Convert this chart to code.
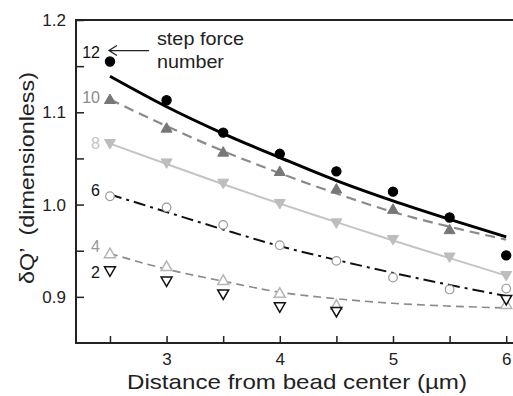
<!DOCTYPE html>
<html lang="en">
  <head>
    <meta charset="utf-8" />
    <title>Step force dQ' vs distance</title>
    <script type="text/javascript" src="https://d3js.org/d3.v7.min.js"></script>
    <style>
      body {
        margin: 0;
        background: #fff;
      }
      svg {
        font-family: "Liberation Sans", Arial, sans-serif;
      }
      .axis text {
        font-size: 17px;
        fill: #222;
      }
      .axis .tick line {
        stroke: #222;
        stroke-width: 1.5px;
      }
      .frame {
        fill: none;
        stroke: #222;
        stroke-width: 2px;
      }
    </style>
  </head>

  <body>
    <script>
      // distances (µm)
      const distance = [2.5, 3, 3.5, 4, 4.5, 5, 5.5, 6];

      // measured points, one list per step force number
      const points12 = [1.155, 1.113, 1.078, 1.055, 1.036, 1.014, 0.986, 0.945];
      const points10 = [1.114, 1.083, 1.057, 1.036, 1.017, 0.995, 0.973, null];
      const points8 = [1.066, 1.045, 1.023, 1.001, 0.98, 0.962, 0.943, 0.923];
      const points6 = [1.009, 0.997, 0.978, 0.956, 0.939, 0.921, 0.908, 0.909];
      const points4 = [0.947, 0.933, 0.918, 0.904, 0.891, null, null, 0.892];
      const points2 = [0.928, 0.917, 0.903, 0.889, 0.884, null, null, 0.897];

      // fitted curves
      const fit12 = [1.139, 1.106, 1.077, 1.051, 1.026, 1.004, 0.984, 0.965];
      const fit10 = [1.114, 1.085, 1.058, 1.034, 1.012, 0.992, 0.976, 0.962];
      const fit8 = [1.066, 1.044, 1.022, 1.001, 0.981, 0.961, 0.942, 0.923];
      const fit6 = [1.011, 0.992, 0.973, 0.955, 0.94, 0.926, 0.913, 0.901];
      const fit4 = [0.947, 0.93, 0.917, 0.905, 0.898, 0.893, 0.89, 0.888];

      const yTicks = [0.9, 0.95, 1.0, 1.05, 1.1, 1.15, 1.2];
      const yLabels = [0.9, 1.0, 1.1, 1.2];
      const xTicks = [2.5, 3, 3.5, 4, 4.5, 5, 5.5, 6];
      const xLabels = [3, 4, 5, 6];

      const w = 513;
      const h = 396;
      const margin = { top: 20, right: 0, bottom: 53, left: 76 };

      let x = d3
        .scaleLinear()
        .domain([2.2, 6.06])
        .range([margin.left, w - margin.right]);
      let y = d3
        .scaleLinear()
        .domain([0.85, 1.2])
        .range([h - margin.bottom, margin.top]);

      let svg = d3
        .select("body")
        .append("svg")
        .attr("width", w)
        .attr("height", h);

      // series styles
      const series = [
        { name: "12", pts: points12, fit: fit12, shape: "circle", fill: "#000", stroke: "#000",
          line: "#000", lw: 3, dash: null, label: "#111", dy: -9 },
        { name: "10", pts: points10, fit: fit10, shape: "up", fill: "#777", stroke: "#777",
          line: "#8a8a8a", lw: 2.2, dash: "10,6", label: "#8a8a8a", dy: -2 },
        { name: "8", pts: points8, fit: fit8, shape: "down", fill: "#bdbdbd", stroke: "#bdbdbd",
          line: "#c4c4c4", lw: 2, dash: null, label: "#c4c4c4", dy: 0 },
        { name: "6", pts: points6, fit: fit6, shape: "circle", fill: "#fff", stroke: "#999",
          line: "#111", lw: 2, dash: "12,5,3,5", label: "#111", dy: -6 },
        { name: "4", pts: points4, fit: fit4, shape: "up", fill: "#fff", stroke: "#b5b5b5",
          line: "#8a8a8a", lw: 1.6, dash: "8,5", label: "#999", dy: -7 },
        { name: "2", pts: points2, fit: null, shape: "down", fill: "#fff", stroke: "#111",
          line: null, lw: 0, dash: null, label: "#111", dy: 1 },
      ];

      // axes
      let xAxis = d3
        .axisBottom(x)
        .tickValues(xTicks)
        .tickSize(-7)
        .tickPadding(10)
        .tickFormat((d) => (xLabels.includes(d) ? d3.format("d")(d) : ""));
      let yAxis = d3
        .axisLeft(y)
        .tickValues(yTicks)
        .tickSize(-8)
        .tickPadding(10)
        .tickFormat((d) => (yLabels.includes(d) ? d3.format(".1f")(d) : ""));

      svg
        .append("g")
        .attr("class", "x axis")
        .attr("transform", `translate(0,${y.range()[0]})`)
        .call(xAxis)
        .call((g) => g.select(".domain").remove())
        .call((g) => g.selectAll(".tick text").filter((d) => !xLabels.includes(d)).remove());

      svg
        .append("g")
        .attr("class", "y axis")
        .attr("transform", `translate(${margin.left},0)`)
        .call(yAxis)
        .call((g) => g.select(".domain").remove())
        .call((g) => g.selectAll(".tick text").filter((d) => !yLabels.includes(d)).remove());

      // frame: left, top, bottom
      svg
        .append("path")
        .attr("class", "frame")
        .attr(
          "d",
          `M${w},${y.range()[1]}H${margin.left}V${y.range()[0]}H${w}`
        );

      // fitted curves
      let line = d3
        .line()
        .defined((d) => d[1] != null)
        .x((d) => x(d[0]))
        .y((d) => y(d[1]))
        .curve(d3.curveMonotoneX);

      series
        .filter((s) => s.fit)
        .forEach((s) => {
          svg
            .append("path")
            .attr("d", line(distance.map((d, i) => [d, s.fit[i]])))
            .attr("fill", "none")
            .attr("stroke", s.line)
            .attr("stroke-width", s.lw)
            .attr("stroke-dasharray", s.dash);
        });

      // markers
      const tri = d3.symbol().type(d3.symbolTriangle).size(52);
      series.forEach((s) => {
        let pts = distance
          .map((d, i) => ({ d: d, v: s.pts[i] }))
          .filter((p) => p.v != null);
        let g = svg.append("g");
        if (s.shape === "circle") {
          g.selectAll("circle")
            .data(pts)
            .join("circle")
            .attr("cx", (p) => x(p.d))
            .attr("cy", (p) => y(p.v))
            .attr("r", s.fill === "#fff" ? 4.3 : 4.6)
            .attr("fill", s.fill)
            .attr("stroke", s.stroke)
            .attr("stroke-width", 1.2);
        } else {
          g.selectAll("path")
            .data(pts)
            .join("path")
            .attr("d", tri)
            .attr(
              "transform",
              (p) =>
                `translate(${x(p.d)},${y(p.v) + (s.shape === "up" ? 1 : -1)}) rotate(${
                  s.shape === "up" ? 0 : 180
                })`
            )
            .attr("fill", s.fill)
            .attr("stroke", s.stroke)
            .attr("stroke-width", s.fill === "#fff" ? 1.5 : 1);
        }
      });

      // step force number labels
      svg
        .append("g")
        .selectAll("text")
        .data(series)
        .join("text")
        .attr("x", x(distance[0]) - 10)
        .attr("y", (s) => y(s.pts[0]) + s.dy)
        .attr("dy", "0.36em")
        .attr("text-anchor", "end")
        .attr("font-size", "16px")
        .attr("fill", (s) => s.label)
        .text((s) => s.name);

      // annotation
      let ay = y(points12[0]) - 11;
      let ax = x(distance[0]) - 1;
      svg
        .append("path")
        .attr("d", `M${ax + 40},${ay}H${ax}M${ax + 8},${ay - 5}L${ax},${ay}L${ax + 8},${ay + 5}`)
        .attr("fill", "none")
        .attr("stroke", "#222")
        .attr("stroke-width", 1.3);

      svg
        .append("text")
        .attr("x", ax + 48)
        .attr("y", ay - 6)
        .attr("font-size", "19px")
        .attr("textLength", 87)
        .attr("lengthAdjust", "spacingAndGlyphs")
        .attr("fill", "#222")
        .text("step force");
      svg
        .append("text")
        .attr("x", ax + 48)
        .attr("y", ay + 17)
        .attr("font-size", "19px")
        .attr("textLength", 67)
        .attr("lengthAdjust", "spacingAndGlyphs")
        .attr("fill", "#222")
        .text("number");

      // axis titles
      svg
        .append("text")
        .attr("x", 127)
        .attr("y", 389)
        .attr("font-size", "21px")
        .attr("textLength", 340)
        .attr("lengthAdjust", "spacingAndGlyphs")
        .attr("fill", "#222")
        .text("Distance from bead center (µm)");

      svg
        .append("text")
        .attr("transform", `translate(34,284) rotate(-90)`)
        .attr("font-size", "21px")
        .attr("textLength", 212)
        .attr("lengthAdjust", "spacingAndGlyphs")
        .attr("fill", "#222")
        .attr("xml:space", "preserve")
        .text("δQ’  (dimensionless)");
    </script>
  </body>
</html>
